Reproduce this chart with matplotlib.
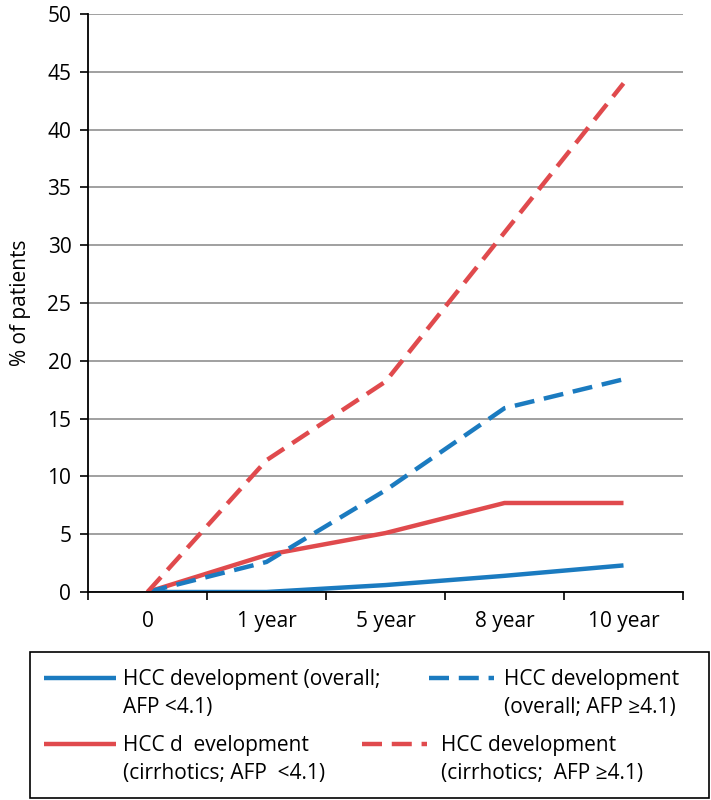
import numpy as np
import matplotlib
matplotlib.use("Agg")
import matplotlib.pyplot as plt
from matplotlib.lines import Line2D
from matplotlib.patches import Rectangle

plt.rcParams['font.family'] = ['Open Sans', 'DejaVu Sans']

# Data
categories = ['0', '1 year', '5 year', '8 year', '10 year']
overall_low = [0, 0, 0.6, 1.4, 2.3]
overall_high = [0, 2.6, 8.8, 15.9, 18.4]
cirr_low = [0, 3.2, 5.1, 7.7, 7.7]
cirr_high = [0, 11.4, 18.2, 31.1, 44.0]

labels = [
    'HCC development (overall;\nAFP <4.1)',
    'HCC development\n(overall; AFP \u22654.1)',
    'HCC d  evelopment\n(cirrhotics; AFP  <4.1)',
    'HCC development\n(cirrhotics;  AFP \u22654.1)',
]

blue = '#1b7bc0'
red = '#e04a4d'
dash = (4.5, 2.2)
styles = [
    dict(color=blue, lw=3.2, solid_capstyle='butt'),
    dict(color=blue, lw=3.2, dashes=dash),
    dict(color=red, lw=3.2, solid_capstyle='butt'),
    dict(color=red, lw=3.2, dashes=dash),
]
series = [overall_low, overall_high, cirr_low, cirr_high]
fs = 15

W, H = 711, 800
fig = plt.figure(figsize=(W / 100, H / 100), dpi=100)
ax = fig.add_axes([88 / W, 1 - 592 / H, (683 - 88) / W, (592 - 14) / H])

x = np.arange(len(categories))
# draw order: solid lines under dashed ones
for i in [0, 2, 1, 3]:
    ax.plot(x, series[i], **styles[i])

ax.set_xlim(-0.5, len(categories) - 0.5)
ax.set_ylim(0, 50)
ax.set_yticks(np.arange(0, 51, 5))
ax.set_xticks(x)
ax.set_xticklabels(categories)
ax.set_xticks(np.arange(-0.5, len(categories)), minor=True)
ax.tick_params(axis='x', which='major', length=0, pad=14, labelsize=fs)
ax.tick_params(axis='x', which='minor', length=6, width=1.2, direction='out')
ax.tick_params(axis='y', length=6, width=1.2, labelsize=fs, pad=6)

ax.grid(axis='y', color='#a0a0a0', lw=1.4)
ax.set_axisbelow(True)
for s in ['top', 'right']:
    ax.spines[s].set_visible(False)
ax.spines['left'].set_linewidth(1.3)
ax.spines['bottom'].set_linewidth(1.3)

ax.set_ylabel('% of patients', fontsize=fs, labelpad=12)


# legend box drawn by hand so that handles sit on the first text line
def fx(px):
    return px / W


def fy(py):
    return 1 - py / H


fig.add_artist(Rectangle((fx(30), fy(798)), fx(709) - fx(30), fy(652) - fy(798),
                         transform=fig.transFigure, fill=False,
                         edgecolor='black', lw=1.2))

# (handle x0, handle x1, text x, first line y) in pixels
slots = [(44, 116, 123, 678), (429, 494, 504, 678),
         (44, 116, 123, 744), (362, 427, 441, 744)]
for (hx0, hx1, tx, ly), lab, st in zip(slots, labels, styles):
    fig.add_artist(Line2D([fx(hx0), fx(hx1)], [fy(ly), fy(ly)],
                          transform=fig.transFigure, **st))
    fig.text(fx(tx), fy(ly - 9), lab, fontsize=fs, va='top', ha='left',
             linespacing=1.45)

fig.savefig('out.png', dpi=100)
